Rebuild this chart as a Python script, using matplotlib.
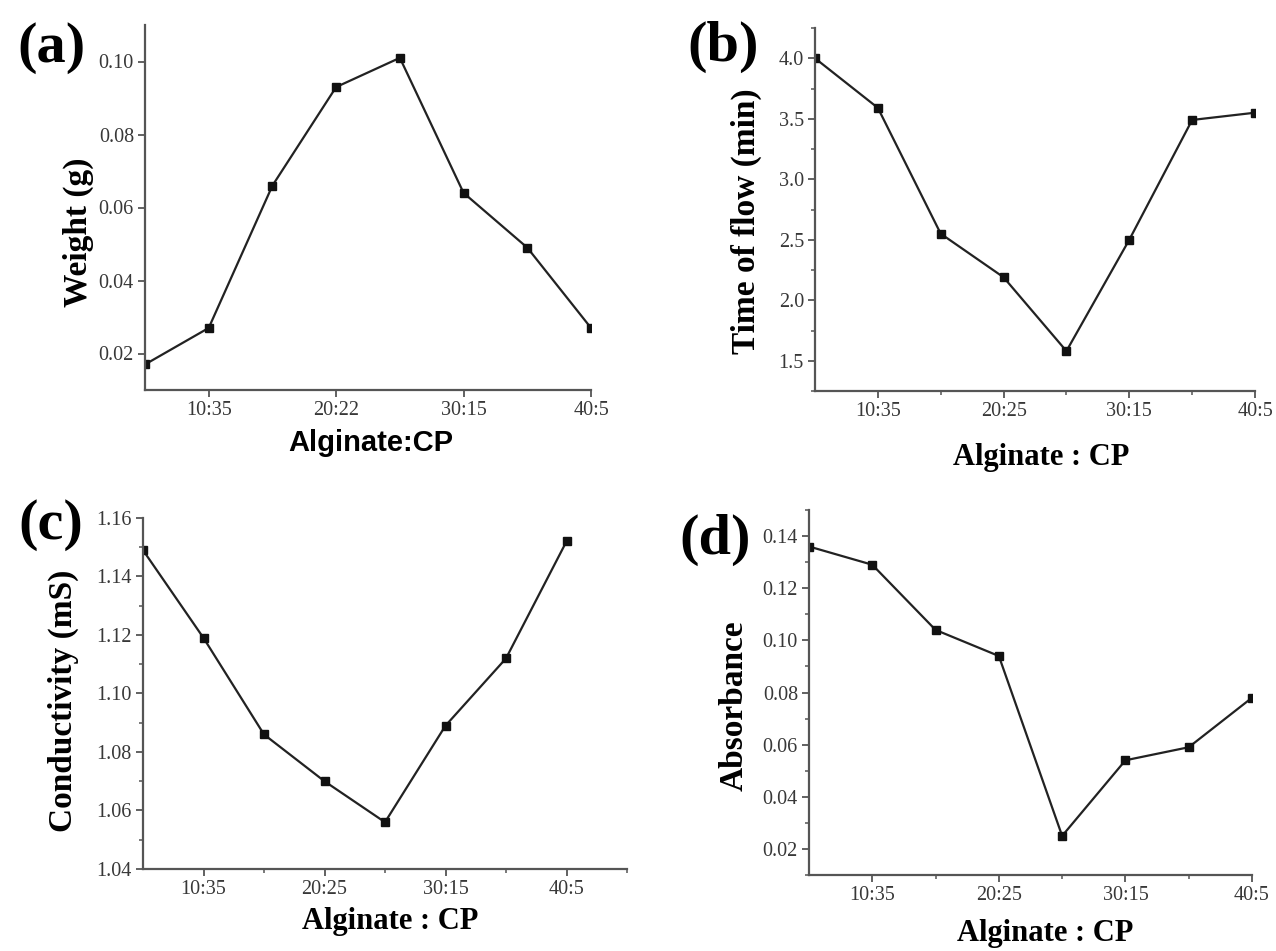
import numpy as np
import matplotlib.pyplot as plt
from matplotlib.ticker import MultipleLocator, FixedLocator

# data
x = np.arange(8)
weight = [0.017, 0.027, 0.066, 0.093, 0.101, 0.064, 0.049, 0.027]
flow_time = [4.0, 3.59, 2.55, 2.19, 1.58, 2.50, 3.49, 3.55]
conductivity = [1.149, 1.119, 1.086, 1.070, 1.056, 1.089, 1.112, 1.152]
absorbance = [0.136, 0.129, 0.104, 0.094, 0.025, 0.054, 0.059, 0.078]

tick_pos = [1, 3, 5, 7]
labels_a = ['10:35', '20:22', '30:15', '40:5']
labels_bcd = ['10:35', '20:25', '30:15', '40:5']

W, H = 1276, 951
fig = plt.figure(figsize=(W / 100, H / 100), dpi=100)

serif = ['Liberation Serif', 'DejaVu Serif']
sans = ['Liberation Sans', 'DejaVu Sans']
tick_col = '#383838'
ax_col = '#555555'


def px_axes(left, top, right, bottom):
    return fig.add_axes([left / W, 1 - bottom / H, (right - left) / W, (bottom - top) / H])


def style(ax, xlim, ylim, ystep, xlabels, minor=True):
    ax.set_xlim(*xlim)
    ax.set_ylim(*ylim)
    for s in ['top', 'right']:
        ax.spines[s].set_visible(False)
    for s in ['left', 'bottom']:
        ax.spines[s].set_color(ax_col)
        ax.spines[s].set_linewidth(1.6)
    ax.xaxis.set_major_locator(FixedLocator(tick_pos))
    ax.set_xticklabels(xlabels)
    ax.yaxis.set_major_locator(MultipleLocator(ystep))
    if minor:
        ax.xaxis.set_minor_locator(FixedLocator([2, 4, 6, 8]))
        ax.yaxis.set_minor_locator(MultipleLocator(ystep / 2))
    ax.tick_params(which='major', direction='out', length=5, width=1.3, color=ax_col,
                   labelsize=14.5, labelcolor=tick_col, pad=3)
    ax.tick_params(which='minor', direction='out', length=3, width=1.1, color=ax_col)
    for lab in ax.get_xticklabels() + ax.get_yticklabels():
        lab.set_family(serif)


def plot_line(ax, y):
    ax.plot(x, y, color='#222222', lw=1.6, marker='s', ms=6, mfc='#111111', mec='#111111')


def ftext(px, py, s, **kw):
    fig.text(px / W, 1 - py / H, s, ha='center', va='center', **kw)


# (a)
ax_a = px_axes(145, 25, 591, 390)
plot_line(ax_a, weight)
style(ax_a, (0, 7), (0.01, 0.11), 0.02, labels_a, minor=False)
ax_a.yaxis.set_major_formatter(plt.FormatStrFormatter('%.2f'))
ftext(51, 48, '(a)', fontsize=42, fontweight='bold', family=serif)
ftext(78, 232, 'Weight (g)', fontsize=24, fontweight='bold', family=serif, rotation=90)
ftext(371, 443, 'Alginate:CP', fontsize=21, fontweight='bold', family=sans)

# (b)
ax_b = px_axes(815, 28, 1255, 391)
plot_line(ax_b, flow_time)
style(ax_b, (0, 7), (1.25, 4.25), 0.5, labels_bcd)
ax_b.yaxis.set_major_formatter(plt.FormatStrFormatter('%.1f'))
ftext(723, 47, '(b)', fontsize=42, fontweight='bold', family=serif)
ftext(746, 221, 'Time of flow (min)', fontsize=24, fontweight='bold', family=serif, rotation=90)
ftext(1041, 457, 'Alginate : CP', fontsize=22, fontweight='bold', family=serif)

# (c)
ax_c = px_axes(143, 518, 627, 869)
plot_line(ax_c, conductivity)
style(ax_c, (0, 8), (1.04, 1.16), 0.02, labels_bcd)
ax_c.yaxis.set_major_formatter(plt.FormatStrFormatter('%.2f'))
ftext(51, 525, '(c)', fontsize=42, fontweight='bold', family=serif)
ftext(63, 701, 'Conductivity (mS)', fontsize=24, fontweight='bold', family=serif, rotation=90)
ftext(390, 922, 'Alginate : CP', fontsize=22, fontweight='bold', family=serif)

# (d)
ax_d = px_axes(809, 510, 1252, 875)
plot_line(ax_d, absorbance)
style(ax_d, (0, 7), (0.01, 0.15), 0.02, labels_bcd)
ax_d.yaxis.set_major_formatter(plt.FormatStrFormatter('%.2f'))
ftext(715, 540, '(d)', fontsize=42, fontweight='bold', family=serif)
ftext(734, 706, 'Absorbance', fontsize=24, fontweight='bold', family=serif, rotation=90)
ftext(1045, 934, 'Alginate : CP', fontsize=22, fontweight='bold', family=serif)

fig.savefig('out.png', dpi=100)
